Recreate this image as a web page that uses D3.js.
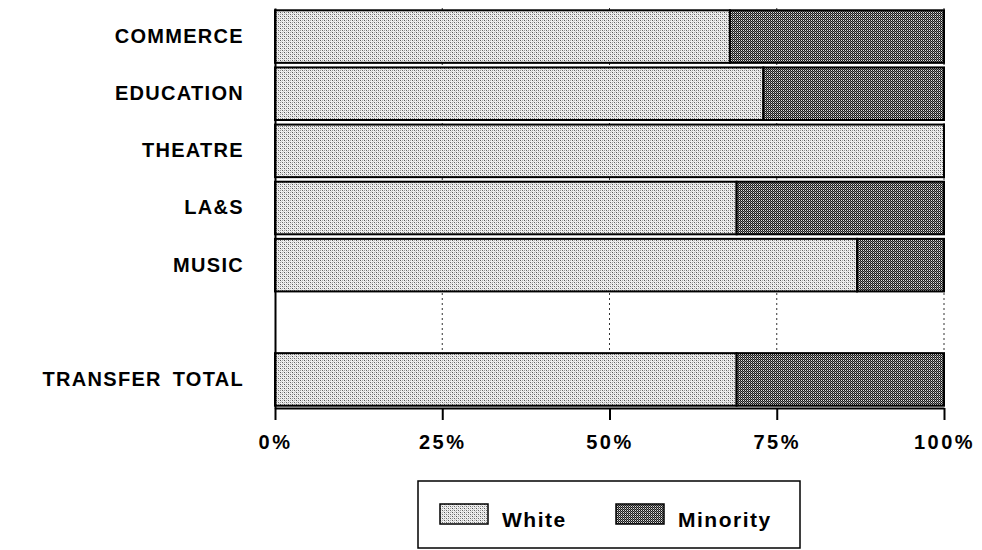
<!DOCTYPE html>
<html>
<head>
<meta charset="utf-8">
<script src="https://cdn.jsdelivr.net/npm/d3@7"></script>
<style>
  body { margin: 0; background: #fff; }
  text { font-family: "Liberation Sans", Arial, sans-serif; font-weight: bold; fill: #000; }
</style>
</head>
<body>
<svg id="chart" width="982" height="550"></svg>
<script>
// data (percent of transfer students)
const categories = ["COMMERCE", "EDUCATION", "THEATRE", "LA&S", "MUSIC", "", "TRANSFER TOTAL"];
const whitePct = [68, 73, 100, 69, 87, null, 69];
const minorityPct = [32, 27, 0, 31, 13, null, 31];
const tickValues = [0, 25, 50, 75, 100];
const legendLabels = ["White", "Minority"];

const svg = d3.select("#chart");
const defs = svg.append("defs");

// halftone-like fills
const pWhite = defs.append("pattern")
  .attr("id", "pat-white")
  .attr("patternUnits", "userSpaceOnUse")
  .attr("width", 4).attr("height", 4);
pWhite.append("rect").attr("width", 4).attr("height", 4).attr("fill", "#f0f0f0");
[[0, 0, "#555"], [2, 2, "#666"], [2, 0, "#aaa"], [0, 2, "#999"], [1, 1, "#d0d0d0"], [3, 3, "#d0d0d0"]].forEach(([x, y, c]) =>
  pWhite.append("rect").attr("x", x).attr("y", y).attr("width", 1).attr("height", 1).attr("fill", c));

const pMin = defs.append("pattern")
  .attr("id", "pat-minority")
  .attr("patternUnits", "userSpaceOnUse")
  .attr("width", 2).attr("height", 2);
pMin.append("rect").attr("width", 2).attr("height", 2).attr("fill", "#1a1a1a");
pMin.append("rect").attr("x", 1).attr("y", 0).attr("width", 1).attr("height", 1).attr("fill", "#e0e0e0");
pMin.append("rect").attr("x", 0).attr("y", 1).attr("width", 1).attr("height", 1).attr("fill", "#777");

const x = d3.scaleLinear().domain([0, 100]).range([275, 944]);
const y = d3.scaleBand().domain(categories.map((c, i) => i)).range([8, 408]).paddingInner(0.08).paddingOuter(0.04);

// dotted gridlines (only visible where no bar covers them)
svg.append("g")
  .selectAll("line")
  .data(tickValues.slice(1))
  .join("line")
  .attr("x1", d => x(d)).attr("x2", d => x(d))
  .attr("y1", 8).attr("y2", 406)
  .attr("stroke", "#333")
  .attr("stroke-width", 1)
  .attr("stroke-dasharray", "2,3");

// bars
const rows = categories.map((c, i) => ({ i, white: whitePct[i], minority: minorityPct[i] }))
  .filter(d => d.white != null);

const barG = svg.append("g");
barG.selectAll(".white")
  .data(rows)
  .join("rect")
  .attr("class", "white")
  .attr("x", x(0))
  .attr("y", d => y(d.i))
  .attr("width", d => x(d.white) - x(0))
  .attr("height", y.bandwidth())
  .attr("fill", "url(#pat-white)")
  .attr("stroke", "#000")
  .attr("stroke-width", 2);

barG.selectAll(".minority")
  .data(rows.filter(d => d.minority > 0))
  .join("rect")
  .attr("class", "minority")
  .attr("x", d => x(d.white))
  .attr("y", d => y(d.i))
  .attr("width", d => x(d.white + d.minority) - x(d.white))
  .attr("height", y.bandwidth())
  .attr("fill", "url(#pat-minority)")
  .attr("stroke", "#000")
  .attr("stroke-width", 2);

// left axis with category labels
const yAxis = d3.axisLeft(y)
  .tickSizeInner(0).tickSizeOuter(0).tickPadding(31)
  .tickFormat(i => categories[i]);
const gy = svg.append("g").attr("transform", `translate(${x(0)},0)`).call(yAxis);
gy.select(".domain").attr("stroke", "#000").attr("stroke-width", 2);
gy.selectAll("text")
  .attr("font-size", 20)
  .attr("letter-spacing", "1.3px")
  .attr("word-spacing", "4px")
  .style("font-family", "'Liberation Sans', Arial, sans-serif")
  .style("font-weight", "bold");

// bottom axis
const xAxis = d3.axisBottom(x)
  .tickValues(tickValues)
  .tickFormat(d => d + "%")
  .tickSizeInner(12).tickSizeOuter(0).tickPadding(15);
const gx = svg.append("g").attr("transform", "translate(0,408)").call(xAxis);
gx.select(".domain").attr("stroke", "#000").attr("stroke-width", 2);
gx.selectAll(".tick line").attr("stroke", "#000").attr("stroke-width", 2);
gx.selectAll("text")
  .attr("font-size", 20)
  .attr("letter-spacing", "2.5px")
  .style("font-family", "'Liberation Sans', Arial, sans-serif")
  .style("font-weight", "bold");

// legend
const legend = svg.append("g");
legend.append("rect")
  .attr("x", 418).attr("y", 481)
  .attr("width", 382).attr("height", 67)
  .attr("fill", "#fff").attr("stroke", "#000").attr("stroke-width", 1.5);

const legendItems = [
  { label: legendLabels[0], fill: "url(#pat-white)", x: 440 },
  { label: legendLabels[1], fill: "url(#pat-minority)", x: 616 },
];
legendItems.forEach(d => {
  legend.append("rect")
    .attr("x", d.x).attr("y", 504)
    .attr("width", 48).attr("height", 20)
    .attr("fill", d.fill)
    .attr("stroke", "#000").attr("stroke-width", 1.5);
  legend.append("text")
    .attr("x", d.x + 62).attr("y", 521)
    .attr("font-size", 21)
    .attr("letter-spacing", "1.5px")
    .attr("dominant-baseline", "middle")
    .text(d.label);
});
</script>
</body>
</html>
